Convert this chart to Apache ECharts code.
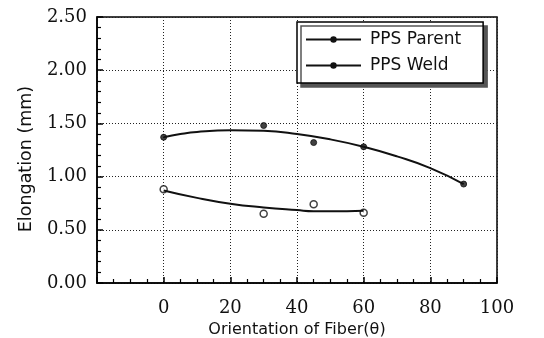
<!DOCTYPE html>
<html>
<head>
<meta charset="utf-8">
<script src="https://cdn.jsdelivr.net/npm/echarts@6/dist/echarts.min.js"></script>
<style>
html, body { margin: 0; padding: 0; background: #fff; }
#chart { width: 544px; height: 338px; }
</style>
</head>
<body>
<div id="chart"></div>
<script>
// measured points
var parentPts = [[0, 1.37], [30, 1.48], [45, 1.32], [60, 1.28], [90, 0.93]];
var weldPts = [[0, 0.88], [30, 0.65], [45, 0.74], [60, 0.66]];
// fitted curves
var parentFit = [[0, 1.37], [5, 1.40], [10, 1.42], [20, 1.435], [30, 1.43], [40, 1.40], [50, 1.35], [60, 1.28], [70, 1.19], [80, 1.08], [90, 0.93]];
var weldFit = [[0, 0.87], [10, 0.80], [20, 0.745], [30, 0.71], [40, 0.685], [45, 0.675], [50, 0.675], [60, 0.68]];
var yTicks = [0, 0.5, 1.0, 1.5, 2.0, 2.5];

var chart = echarts.init(document.getElementById("chart"));
var tickFont = 'DejaVu Serif';
var option = {
    backgroundColor: '#fff',
    animation: false,
    grid: {
        left: 97, right: 47, top: 17, bottom: 55,
        outerBoundsMode: 'none',
        show: true, borderColor: '#000', borderWidth: 1.5
    },
    legend: {
        left: 297, top: 22,
        orient: 'vertical',
        data: ['PPS Parent', 'PPS Weld'],
        itemWidth: 55, itemHeight: 8, itemGap: 9,
        padding: [9, 22, 9, 8],
        backgroundColor: '#fff',
        borderColor: '#000', borderWidth: 1.5, borderRadius: 0,
        shadowColor: '#555', shadowBlur: 0, shadowOffsetX: 4, shadowOffsetY: 4,
        textStyle: { fontFamily: 'DejaVu Sans', fontSize: 17, color: '#111', padding: [0, 0, 0, 4] }
    },
    xAxis: {
        type: 'value', min: -20, max: 100, interval: 20,
        name: 'Orientation of Fiber(θ)', nameLocation: 'middle', nameGap: 36,
        nameTextStyle: { fontFamily: 'DejaVu Sans', fontSize: 16, color: '#111' },
        axisLine: { onZero: false, lineStyle: { color: '#000', width: 1.5 } },
        axisTick: { inside: true, length: 6, lineStyle: { color: '#000', width: 1.5 } },
        minorTick: { show: true, splitNumber: 4, length: 4, lineStyle: { color: '#000', width: 1.2 } },
        axisLabel: {
            margin: 16, fontFamily: tickFont, fontSize: 18, color: '#111',
            formatter: function (v) { return v < 0 ? '' : String(v); }
        },
        splitLine: { show: true, lineStyle: { color: '#222', type: [1, 2], width: 1 } }
    },
    yAxis: {
        type: 'value', min: yTicks[0], max: yTicks[yTicks.length - 1], interval: 0.5,
        name: 'Elongation (mm)', nameLocation: 'middle', nameGap: 62,
        nameTextStyle: { fontFamily: 'DejaVu Sans', fontSize: 17.5, color: '#111', padding: [0, 18, 0, 0] },
        axisLine: { onZero: false, lineStyle: { color: '#000', width: 1.5 } },
        axisTick: { inside: true, length: 6, lineStyle: { color: '#000', width: 1.5 } },
        minorTick: { show: true, splitNumber: 5, length: 4, lineStyle: { color: '#000', width: 1.2 } },
        axisLabel: {
            margin: 10, fontFamily: tickFont, fontSize: 18, color: '#111',
            formatter: function (v) { return v.toFixed(2); }
        },
        splitLine: { show: true, lineStyle: { color: '#222', type: [1, 2], width: 1 } }
    },
    series: [
        {
            name: 'PPS Parent', type: 'line', data: parentFit, smooth: true,
            symbol: 'circle', symbolSize: 4, showSymbol: false,
            lineStyle: { color: '#111', width: 2 }, itemStyle: { color: '#111' }
        },
        {
            name: 'PPS Weld', type: 'line', data: weldFit, smooth: true,
            symbol: 'circle', symbolSize: 4, showSymbol: false,
            lineStyle: { color: '#111', width: 2 }, itemStyle: { color: '#111' }
        },
        {
            name: 'Parent points', type: 'scatter', data: parentPts,
            symbol: 'circle', symbolSize: 6,
            itemStyle: { color: '#111', borderColor: '#111', borderWidth: 1 }
        },
        {
            name: 'Weld points', type: 'scatter', data: weldPts,
            symbol: 'circle', symbolSize: 7,
            itemStyle: { color: '#fff', borderColor: '#111', borderWidth: 1.5 }
        }
    ]
};
chart.setOption(option);
</script>
</body>
</html>
